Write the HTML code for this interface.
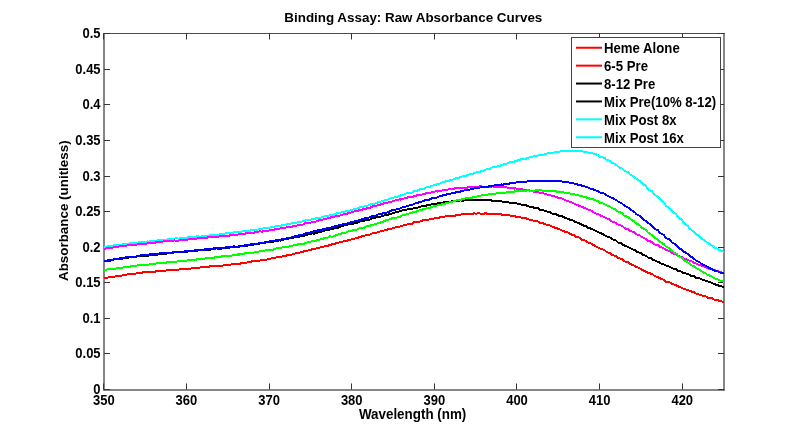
<!DOCTYPE html><html><head><meta charset="utf-8"><style>html,body{margin:0;padding:0;background:#fff;width:800px;height:438px;overflow:hidden}svg{display:block;will-change:transform}text{font-family:"Liberation Sans",sans-serif;font-weight:bold;fill:#000}</style></head><body>
<svg width="800" height="438" viewBox="0 0 800 438">
<text transform="translate(413.30,21.80) scale(1,1.0)" font-size="13.4" text-anchor="middle">Binding Assay: Raw Absorbance Curves</text>
<path d="M104 33V390.5M724 33V390.5M103.5 390H724.5" stroke="#000" stroke-width="1" fill="none" opacity="0.95"/>
<path d="M103.5 33.5H724.5" stroke="#000" stroke-width="1" fill="none" opacity="0.7"/>
<path d="M104 389.5h6M724 389.5h-6M104 353.5h6M724 353.5h-6M104 318.5h6M724 318.5h-6M104 282.5h6M724 282.5h-6M104 247.5h6M724 247.5h-6M104 211.5h6M724 211.5h-6M104 176.5h6M724 176.5h-6M104 140.5h6M724 140.5h-6M104 104.5h6M724 104.5h-6M104 69.5h6M724 69.5h-6M104 33.5h6M724 33.5h-6M103.5 389.5v-6M103.5 33.5v6M186.5 389.5v-6M186.5 33.5v6M269.5 389.5v-6M269.5 33.5v6M351.5 389.5v-6M351.5 33.5v6M434.5 389.5v-6M434.5 33.5v6M516.5 389.5v-6M516.5 33.5v6M599.5 389.5v-6M599.5 33.5v6M682.5 389.5v-6M682.5 33.5v6" stroke="#333" stroke-width="1" fill="none"/>
<text transform="translate(100.60,394.10) scale(1,1.12)" font-size="13" text-anchor="end">0</text>
<text transform="translate(100.60,358.10) scale(1,1.12)" font-size="13" text-anchor="end">0.05</text>
<text transform="translate(100.60,323.10) scale(1,1.12)" font-size="13" text-anchor="end">0.1</text>
<text transform="translate(100.60,287.10) scale(1,1.12)" font-size="13" text-anchor="end">0.15</text>
<text transform="translate(100.60,252.10) scale(1,1.12)" font-size="13" text-anchor="end">0.2</text>
<text transform="translate(100.60,216.10) scale(1,1.12)" font-size="13" text-anchor="end">0.25</text>
<text transform="translate(100.60,181.10) scale(1,1.12)" font-size="13" text-anchor="end">0.3</text>
<text transform="translate(100.60,145.10) scale(1,1.12)" font-size="13" text-anchor="end">0.35</text>
<text transform="translate(100.60,109.10) scale(1,1.12)" font-size="13" text-anchor="end">0.4</text>
<text transform="translate(100.60,74.10) scale(1,1.12)" font-size="13" text-anchor="end">0.45</text>
<text transform="translate(100.60,38.10) scale(1,1.12)" font-size="13" text-anchor="end">0.5</text>
<text transform="translate(103.83,404.80) scale(1,1.12)" font-size="13" text-anchor="middle">350</text>
<text transform="translate(186.46,404.80) scale(1,1.12)" font-size="13" text-anchor="middle">360</text>
<text transform="translate(269.10,404.80) scale(1,1.12)" font-size="13" text-anchor="middle">370</text>
<text transform="translate(351.73,404.80) scale(1,1.12)" font-size="13" text-anchor="middle">380</text>
<text transform="translate(434.36,404.80) scale(1,1.12)" font-size="13" text-anchor="middle">390</text>
<text transform="translate(517.00,404.80) scale(1,1.12)" font-size="13" text-anchor="middle">400</text>
<text transform="translate(599.63,404.80) scale(1,1.12)" font-size="13" text-anchor="middle">410</text>
<text transform="translate(682.26,404.80) scale(1,1.12)" font-size="13" text-anchor="middle">420</text>
<text transform="translate(412.60,419.30) scale(1,1.04)" font-size="13.4" text-anchor="middle">Wavelength (nm)</text>
<text transform="translate(67.60,210.70) rotate(-90) scale(1,1.0)" font-size="13.4" text-anchor="middle">Absorbance (unitless)</text>
<g fill="none" stroke-width="2" stroke-linejoin="round" shape-rendering="crispEdges">
<path d="M104 278.4 106 278.2 107 277.8 108 277.4 110 277.2 112 276.9 113 276.8 114 276.8 116 276.2 118 276.0 119 276.0 120 275.7 122 275.5 124 275.0 125 275.0 126 274.9 128 274.3 130 274.3 131 273.8 132 273.8 134 273.5 136 273.6 137 273.2 138 273.3 140 273.1 142 272.9 143 272.3 144 272.5 146 272.4 148 272.3 149 271.8 150 271.9 152 271.6 154 271.5 155 271.7 156 271.2 158 271.2 160 271.3 161 270.8 162 270.8 164 270.7 166 270.5 167 270.1 168 270.3 170 270.4 172 269.7 173 270.0 174 269.8 176 269.5 178 269.9 179 269.5 180 269.0 182 269.1 184 269.1 185 268.8 186 268.9 188 268.6 190 268.6 191 268.6 192 268.1 194 268.1 196 267.9 197 267.9 198 267.5 200 267.5 202 267.4 203 267.5 204 267.4 206 266.8 208 266.8 209 266.9 210 266.3 212 266.4 214 266.4 215 266.5 216 266.2 218 265.9 220 265.7 221 265.6 222 265.8 224 265.2 226 265.1 227 265.1 228 264.8 230 264.6 232 264.3 233 264.3 234 264.1 236 264.2 238 263.9 239 263.6 240 263.6 242 263.2 244 263.3 245 262.9 246 262.8 248 262.2 250 262.3 251 261.7 252 261.4 254 261.5 256 261.2 257 261.2 258 261.3 260 260.5 262 260.3 263 260.2 264 260.0 266 259.6 268 259.3 269 259.2 270 258.9 272 258.3 274 258.2 275 258.0 276 257.4 278 257.4 280 256.9 281 256.9 282 256.5 284 256.1 286 255.7 287 255.4 288 254.7 290 254.6 292 254.5 293 253.7 294 253.9 296 253.1 298 253.2 299 252.5 300 252.5 302 252.0 304 251.3 305 251.5 306 251.2 308 250.5 310 250.1 311 249.8 312 249.3 314 249.3 316 248.6 317 248.3 318 247.8 320 247.5 322 247.0 323 247.1 324 246.4 326 246.3 328 245.7 329 245.2 330 244.9 332 244.4 334 244.2 335 243.7 336 243.3 338 242.7 340 242.4 341 242.5 342 241.7 344 241.2 346 241.1 347 240.9 348 239.9 350 239.8 352 239.3 353 238.7 354 238.7 356 238.2 358 237.8 359 237.2 360 237.0 362 236.4 364 236.1 365 235.5 366 235.1 368 235.1 370 234.4 371 234.1 372 233.6 374 233.1 376 232.7 377 232.5 378 231.9 380 231.5 382 231.2 383 231.0 384 230.5 386 230.0 388 229.4 389 228.8 390 228.9 392 228.5 394 227.9 395 227.6 396 227.3 398 226.9 400 226.5 401 225.9 402 225.9 404 224.9 406 225.0 407 224.5 408 224.3 410 224.1 412 223.7 413 222.8 414 222.3 416 222.5 418 221.8 419 221.6 420 221.5 422 220.6 424 220.2 425 220.4 426 220.0 428 219.7 430 219.4 431 218.9 432 218.5 434 218.5 436 218.1 437 217.7 438 217.8 440 217.4 442 217.3 443 216.8 444 216.6 446 216.3 448 216.1 449 216.1 450 215.7 452 215.7 454 215.5 455 215.7 456 214.8 458 215.1 460 214.8 461 214.6 462 214.2 464 214.3 466 214.4 467 214.1 468 214.1 470 213.9 472 214.1 473 213.8 474 213.3 476 213.6 478 213.3 479 213.0 480 213.5 482 213.9 484 213.6 485 213.4 486 213.4 488 213.9 490 213.7 491 213.8 492 213.8 494 213.9 496 214.2 497 214.2 498 214.3 500 214.2 502 214.6 503 214.5 504 215.1 506 214.8 508 215.2 509 215.4 510 215.4 512 216.2 514 216.4 515 216.3 516 216.8 518 217.0 520 216.7 521 217.6 522 217.8 524 218.2 526 218.3 527 218.8 528 219.2 530 219.8 532 220.0 533 220.4 534 221.1 536 221.1 538 221.5 539 221.7 540 222.8 542 223.2 544 223.6 545 224.1 546 224.5 548 225.0 550 225.4 551 226.0 552 226.6 554 227.4 556 227.8 557 228.3 558 228.8 560 229.4 562 230.4 563 230.8 564 231.4 566 231.9 568 232.4 569 233.3 570 234.2 572 234.6 574 235.3 575 236.0 576 236.7 578 237.1 580 238.1 581 238.7 582 239.7 584 240.1 586 241.1 587 242.1 588 242.4 590 243.1 592 244.0 593 244.7 594 245.3 596 246.4 598 247.4 599 247.7 600 248.5 602 249.1 604 250.1 605 250.6 606 251.4 608 252.6 610 253.0 611 254.1 612 255.0 614 255.5 616 256.3 617 257.4 618 257.7 620 258.4 622 259.0 623 260.1 624 261.1 626 261.8 628 262.2 629 262.9 630 263.8 632 264.7 634 265.4 635 266.2 636 267.0 638 267.6 640 268.4 641 269.2 642 269.9 644 270.7 646 271.7 647 272.2 648 272.8 650 273.2 652 274.3 653 274.6 654 275.4 656 276.6 658 277.2 659 277.8 660 278.2 662 279.1 664 279.7 665 280.7 666 281.7 668 281.9 670 282.4 671 283.0 672 283.9 674 284.5 676 284.9 677 285.8 678 286.2 680 287.3 682 287.9 683 288.5 684 288.8 686 289.6 688 290.1 689 290.6 690 291.2 692 291.6 694 292.1 695 293.1 696 293.4 698 294.1 700 294.7 701 294.7 702 295.4 704 296.1 706 296.6 707 297.0 708 297.7 710 298.0 712 298.2 713 298.7 714 299.5 716 299.9 718 299.8 719 300.9 720 301.1 722 301.6 724 301.7" stroke="#f00"/>
<path d="M104 246.8 106 246.5 107 247.0 108 246.2 110 246.4 112 245.7 113 245.7 114 245.1 116 245.2 118 245.2 119 244.6 120 244.9 122 244.5 124 244.1 125 244.0 126 243.8 128 243.7 130 243.4 131 243.2 132 243.1 134 242.8 136 242.6 137 242.7 138 242.7 140 242.0 142 242.2 143 241.9 144 241.7 146 241.9 148 241.4 149 241.7 150 241.1 152 241.2 154 240.9 155 240.6 156 240.7 158 240.4 160 240.4 161 240.2 162 239.8 164 239.8 166 239.7 167 239.8 168 239.2 170 239.3 172 238.8 173 239.1 174 238.6 176 238.3 178 238.5 179 238.6 180 238.0 182 237.9 184 237.8 185 237.6 186 237.8 188 237.4 190 237.3 191 237.4 192 237.0 194 237.0 196 236.6 197 236.4 198 236.2 200 236.7 202 236.2 203 236.1 204 235.9 206 235.8 208 235.6 209 235.8 210 235.1 212 234.8 214 234.8 215 234.6 216 234.8 218 234.7 220 234.2 221 233.9 222 233.9 224 234.1 226 233.1 227 233.6 228 233.1 230 233.4 232 232.8 233 232.7 234 232.3 236 232.2 238 232.5 239 232.2 240 231.8 242 231.5 244 231.1 245 231.2 246 231.1 248 230.9 250 230.7 251 230.2 252 230.2 254 230.0 256 230.1 257 230.0 258 229.4 260 229.0 262 228.9 263 228.6 264 228.3 266 228.2 268 227.8 269 227.9 270 227.5 272 227.3 274 226.9 275 226.6 276 226.3 278 226.1 280 225.8 281 225.7 282 225.4 284 224.8 286 224.8 287 224.3 288 224.1 290 223.9 292 223.3 293 223.4 294 223.1 296 222.7 298 222.4 299 222.1 300 221.7 302 221.5 304 221.1 305 220.9 306 220.3 308 220.3 310 220.0 311 219.6 312 219.2 314 219.1 316 218.3 317 218.4 318 218.0 320 217.7 322 217.3 323 216.8 324 216.5 326 216.3 328 215.9 329 215.5 330 214.8 332 214.9 334 214.7 335 214.3 336 213.7 338 213.0 340 213.1 341 212.5 342 211.7 344 211.9 346 211.1 347 210.8 348 210.5 350 210.5 352 209.8 353 209.5 354 209.4 356 208.9 358 208.2 359 207.7 360 207.1 362 206.8 364 206.6 365 206.2 366 205.7 368 205.5 370 204.7 371 204.4 372 204.1 374 203.6 376 203.3 377 202.7 378 202.1 380 201.8 382 201.1 383 200.5 384 200.5 386 199.9 388 199.6 389 198.7 390 198.5 392 198.0 394 197.5 395 196.8 396 196.7 398 196.5 400 195.9 401 195.3 402 194.9 404 194.6 406 193.4 407 193.5 408 193.2 410 192.7 412 192.5 413 191.9 414 191.3 416 190.8 418 190.4 419 189.7 420 189.3 422 189.1 424 188.8 425 187.9 426 187.5 428 187.1 430 186.8 431 186.1 432 185.9 434 185.0 436 184.7 437 184.2 438 184.0 440 183.5 442 182.6 443 182.2 444 182.0 446 181.4 448 180.8 449 180.8 450 180.3 452 179.8 454 179.2 455 179.0 456 178.3 458 178.2 460 177.3 461 176.9 462 176.6 464 176.0 466 175.9 467 175.3 468 174.7 470 174.4 472 173.9 473 173.7 474 172.9 476 172.5 478 172.4 479 172.2 480 171.7 482 170.9 484 170.5 485 170.3 486 169.5 488 168.9 490 168.7 491 168.3 492 167.6 494 167.0 496 166.6 497 166.6 498 165.9 500 165.6 502 165.2 503 164.8 504 164.2 506 163.9 508 163.2 509 162.9 510 162.3 512 162.3 514 161.7 515 161.1 516 160.8 518 160.4 520 160.2 521 159.3 522 159.0 524 158.7 526 158.9 527 158.2 528 157.6 530 157.4 532 157.3 533 156.5 534 156.1 536 156.1 538 155.6 539 155.3 540 154.8 542 155.0 544 154.6 545 154.1 546 153.8 548 153.0 550 153.3 551 152.9 552 152.7 554 152.6 556 152.1 557 151.7 558 151.9 560 151.5 562 151.4 563 151.2 564 151.1 566 150.6 568 151.2 569 151.0 570 151.1 572 151.3 574 150.9 575 150.5 576 150.8 578 150.8 580 151.1 581 151.3 582 151.1 584 151.7 586 151.6 587 152.2 588 152.5 590 152.8 592 153.2 593 153.5 594 153.9 596 154.2 598 155.1 599 156.0 600 156.7 602 157.2 604 157.8 605 158.3 606 159.5 608 160.0 610 160.9 611 161.8 612 162.8 614 163.6 616 164.7 617 165.4 618 166.6 620 168.1 622 168.5 623 169.5 624 170.6 626 171.6 628 172.2 629 173.3 630 174.6 632 175.5 634 176.5 635 177.9 636 178.6 638 179.9 640 181.0 641 182.6 642 183.2 644 184.7 646 186.0 647 187.6 648 188.9 650 190.4 652 191.1 653 193.0 654 194.1 656 195.5 658 197.1 659 198.2 660 199.4 662 201.2 664 202.4 665 204.0 666 205.7 668 207.2 670 208.9 671 210.0 672 211.2 674 212.9 676 214.3 677 215.7 678 217.5 680 218.8 682 219.9 683 221.9 684 223.2 686 224.7 688 226.1 689 227.6 690 228.8 692 230.4 694 231.6 695 232.9 696 234.2 698 235.1 700 236.6 701 237.8 702 239.1 704 239.9 706 241.6 707 242.4 708 243.2 710 244.1 712 245.4 713 246.4 714 247.1 716 248.2 718 248.8 719 249.8 720 250.3 722 251.1 724 251.9" stroke="#0ff"/>
<path d="M104 249.4 106 248.5 107 248.4 108 248.1 110 248.2 112 247.5 113 247.5 114 247.3 116 246.9 118 246.7 119 246.6 120 246.1 122 246.0 124 246.0 125 245.9 126 245.7 128 245.2 130 245.3 131 245.3 132 245.1 134 244.8 136 244.5 137 244.6 138 244.2 140 243.9 142 243.8 143 244.1 144 243.7 146 243.7 148 243.2 149 243.3 150 242.9 152 242.8 154 243.2 155 242.7 156 242.3 158 242.2 160 242.1 161 242.2 162 241.7 164 241.3 166 241.4 167 241.3 168 241.2 170 241.3 172 241.0 173 240.9 174 240.4 176 240.7 178 240.8 179 240.4 180 240.1 182 240.0 184 240.2 185 239.5 186 239.5 188 239.5 190 239.4 191 239.0 192 239.0 194 238.8 196 238.7 197 238.5 198 238.2 200 238.3 202 238.3 203 237.8 204 237.8 206 237.9 208 237.4 209 237.5 210 237.1 212 237.4 214 237.5 215 237.3 216 236.7 218 236.7 220 236.4 221 236.3 222 236.4 224 235.7 226 236.0 227 235.6 228 235.8 230 235.4 232 235.0 233 235.0 234 235.0 236 234.7 238 234.6 239 234.2 240 233.7 242 234.1 244 233.9 245 233.6 246 233.4 248 233.4 250 232.9 251 232.7 252 232.6 254 232.7 256 232.0 257 232.3 258 231.7 260 231.4 262 231.7 263 231.2 264 230.7 266 230.7 268 230.7 269 230.6 270 230.0 272 229.9 274 229.8 275 229.2 276 229.2 278 228.9 280 228.5 281 228.3 282 228.1 284 227.8 286 227.5 287 227.2 288 227.2 290 226.8 292 226.6 293 226.4 294 226.0 296 226.0 298 225.1 299 225.1 300 224.6 302 224.7 304 224.3 305 223.3 306 223.2 308 223.2 310 222.9 311 222.5 312 222.0 314 221.8 316 221.5 317 221.0 318 220.8 320 219.8 322 220.1 323 219.4 324 219.4 326 218.8 328 218.3 329 218.2 330 217.6 332 217.2 334 216.7 335 216.6 336 216.3 338 216.1 340 215.4 341 215.3 342 214.7 344 214.3 346 214.0 347 213.7 348 213.1 350 212.7 352 212.3 353 212.0 354 211.4 356 211.4 358 210.7 359 210.4 360 209.8 362 209.6 364 209.2 365 208.7 366 208.7 368 208.0 370 207.9 371 207.3 372 206.6 374 206.2 376 206.0 377 205.5 378 205.1 380 204.7 382 204.0 383 203.9 384 203.1 386 203.2 388 202.6 389 202.2 390 201.9 392 201.6 394 200.9 395 200.4 396 200.2 398 199.6 400 199.4 401 199.6 402 198.7 404 198.6 406 197.9 407 197.8 408 197.3 410 197.0 412 196.8 413 196.7 414 196.0 416 195.7 418 195.1 419 195.1 420 194.6 422 194.5 424 194.0 425 194.0 426 193.0 428 193.0 430 192.9 431 192.4 432 192.0 434 191.8 436 191.3 437 191.4 438 191.6 440 191.1 442 190.4 443 190.2 444 190.0 446 190.1 448 189.5 449 189.3 450 189.4 452 189.2 454 188.7 455 188.4 456 188.1 458 188.1 460 187.7 461 188.1 462 187.7 464 187.8 466 187.9 467 187.7 468 187.1 470 187.4 472 187.4 473 186.9 474 186.8 476 186.9 478 186.5 479 187.1 480 186.3 482 186.5 484 186.6 485 186.6 486 186.7 488 186.7 490 186.6 491 186.9 492 186.3 494 186.7 496 186.6 497 186.9 498 187.0 500 186.8 502 186.9 503 187.3 504 187.3 506 187.3 508 187.9 509 188.1 510 187.5 512 188.0 514 188.6 515 188.4 516 188.5 518 188.6 520 188.8 521 189.0 522 189.2 524 189.7 526 189.7 527 189.9 528 190.1 530 190.6 532 190.7 533 191.1 534 191.7 536 191.9 538 192.2 539 192.5 540 192.8 542 193.1 544 193.5 545 194.1 546 194.1 548 195.0 550 195.1 551 195.4 552 195.9 554 196.3 556 196.9 557 197.2 558 198.1 560 198.2 562 198.4 563 199.2 564 199.5 566 200.4 568 201.2 569 201.6 570 201.8 572 202.5 574 203.6 575 203.9 576 204.5 578 205.3 580 206.2 581 206.6 582 207.0 584 207.7 586 208.4 587 208.9 588 209.4 590 210.3 592 210.8 593 211.7 594 212.5 596 213.6 598 213.7 599 214.6 600 215.3 602 216.2 604 217.0 605 217.5 606 218.2 608 218.7 610 219.7 611 220.7 612 221.4 614 222.0 616 222.9 617 223.7 618 224.6 620 225.2 622 226.0 623 226.5 624 227.5 626 228.8 628 228.9 629 230.0 630 230.9 632 231.6 634 232.3 635 233.3 636 234.1 638 234.9 640 235.4 641 236.5 642 237.2 644 238.0 646 239.0 647 239.9 648 240.7 650 241.3 652 242.3 653 243.2 654 244.0 656 244.8 658 245.3 659 246.1 660 247.0 662 247.4 664 248.5 665 249.1 666 249.9 668 250.4 670 251.3 671 252.2 672 253.1 674 253.9 676 254.4 677 255.1 678 255.7 680 256.6 682 257.2 683 258.0 684 259.0 686 259.3 688 259.6 689 260.4 690 261.0 692 261.6 694 262.8 695 263.2 696 263.4 698 264.5 700 265.2 701 265.4 702 266.0 704 266.6 706 267.3 707 267.9 708 268.5 710 269.0 712 269.5 713 270.0 714 270.4 716 270.4 718 271.1 719 271.6 720 271.9 722 272.6 724 272.7" stroke="#f0f"/>
<path d="M104 261.3 106 261.5 107 261.1 108 260.7 110 260.6 112 260.4 113 260.0 114 259.2 116 259.3 118 259.1 119 258.8 120 258.8 122 258.8 124 258.2 125 257.9 126 258.3 128 257.6 130 257.3 131 257.4 132 257.2 134 256.8 136 256.9 137 256.4 138 256.2 140 256.2 142 256.2 143 255.7 144 255.7 146 255.5 148 255.9 149 255.0 150 255.3 152 254.8 154 254.7 155 254.7 156 254.5 158 254.5 160 254.1 161 253.8 162 253.7 164 253.7 166 253.6 167 253.6 168 253.3 170 253.3 172 253.2 173 252.8 174 252.3 176 252.3 178 252.1 179 252.6 180 251.9 182 252.2 184 252.0 185 252.1 186 251.8 188 251.4 190 251.3 191 251.2 192 251.1 194 250.8 196 250.8 197 251.0 198 250.2 200 250.4 202 250.1 203 250.2 204 250.2 206 249.8 208 249.9 209 249.3 210 249.7 212 249.2 214 249.3 215 249.1 216 248.4 218 248.6 220 248.6 221 248.8 222 248.4 224 248.2 226 247.7 227 248.1 228 248.0 230 247.5 232 247.3 233 246.9 234 247.2 236 247.4 238 246.8 239 246.8 240 246.4 242 246.0 244 246.2 245 245.5 246 245.6 248 245.5 250 245.4 251 245.1 252 244.9 254 244.4 256 244.1 257 244.2 258 243.8 260 243.5 262 243.3 263 243.2 264 242.7 266 242.5 268 242.2 269 242.4 270 242.2 272 242.2 274 241.3 275 241.2 276 241.2 278 240.7 280 240.4 281 240.6 282 239.9 284 239.4 286 239.1 287 239.1 288 238.8 290 238.2 292 238.0 293 238.0 294 237.6 296 237.1 298 237.0 299 236.7 300 235.9 302 235.9 304 235.7 305 235.1 306 234.5 308 234.5 310 234.4 311 234.2 312 233.1 314 233.7 316 232.6 317 232.7 318 232.4 320 232.0 322 231.5 323 230.8 324 230.8 326 230.2 328 229.5 329 230.2 330 229.4 332 229.2 334 228.3 335 228.4 336 228.1 338 227.7 340 227.0 341 226.4 342 226.2 344 225.4 346 225.1 347 225.1 348 224.5 350 224.3 352 223.9 353 223.9 354 223.4 356 222.7 358 222.6 359 221.8 360 221.5 362 221.4 364 220.6 365 220.4 366 219.8 368 219.7 370 219.6 371 218.7 372 218.5 374 217.9 376 217.5 377 217.0 378 217.2 380 217.0 382 216.2 383 215.6 384 215.5 386 214.9 388 214.7 389 214.2 390 213.8 392 213.5 394 212.9 395 212.5 396 211.9 398 211.8 400 211.2 401 211.1 402 210.5 404 210.4 406 210.1 407 209.4 408 209.1 410 208.7 412 208.7 413 208.6 414 208.1 416 207.5 418 207.5 419 206.6 420 206.9 422 206.1 424 205.4 425 206.2 426 205.7 428 204.8 430 204.8 431 204.4 432 204.2 434 203.7 436 203.6 437 203.5 438 203.2 440 203.2 442 202.7 443 203.0 444 202.2 446 202.1 448 201.5 449 201.5 450 201.8 452 201.2 454 201.3 455 201.0 456 200.7 458 200.7 460 200.5 461 200.4 462 200.6 464 200.5 466 200.1 467 200.0 468 200.1 470 200.0 472 200.2 473 200.5 474 200.1 476 199.9 478 199.9 479 199.7 480 199.7 482 199.7 484 199.9 485 199.9 486 200.2 488 200.1 490 200.2 491 200.1 492 200.7 494 200.6 496 201.0 497 200.9 498 201.2 500 201.0 502 201.4 503 202.0 504 201.4 506 202.1 508 202.4 509 202.4 510 202.7 512 203.0 514 202.9 515 203.4 516 203.4 518 203.7 520 204.0 521 204.4 522 204.8 524 205.2 526 205.2 527 206.2 528 206.4 530 206.7 532 206.9 533 207.3 534 207.8 536 208.2 538 208.2 539 209.1 540 210.0 542 209.5 544 210.5 545 210.8 546 211.2 548 212.0 550 212.0 551 212.7 552 213.5 554 213.7 556 214.1 557 214.8 558 215.2 560 216.2 562 216.2 563 217.1 564 217.3 566 218.2 568 218.7 569 218.7 570 219.9 572 220.2 574 221.0 575 222.0 576 222.1 578 222.7 580 223.9 581 224.3 582 225.2 584 225.6 586 226.0 587 226.9 588 227.8 590 228.4 592 228.9 593 229.6 594 230.3 596 230.9 598 232.1 599 232.4 600 232.9 602 233.8 604 234.8 605 235.5 606 236.1 608 236.7 610 237.6 611 238.0 612 238.8 614 240.0 616 240.5 617 241.5 618 242.4 620 243.0 622 243.7 623 244.9 624 245.4 626 245.9 628 246.9 629 247.6 630 248.1 632 249.1 634 249.8 635 250.2 636 251.4 638 252.1 640 252.8 641 253.3 642 254.4 644 255.2 646 255.9 647 256.4 648 257.5 650 257.9 652 258.8 653 259.8 654 260.2 656 260.9 658 261.9 659 262.3 660 263.0 662 263.8 664 264.6 665 264.6 666 265.6 668 266.2 670 266.8 671 267.5 672 268.1 674 269.0 676 269.3 677 270.1 678 270.8 680 271.1 682 271.9 683 272.8 684 273.1 686 273.5 688 274.2 689 274.5 690 275.3 692 276.0 694 276.2 695 276.9 696 277.7 698 277.9 700 278.6 701 278.9 702 279.5 704 280.0 706 281.1 707 281.1 708 281.6 710 282.1 712 282.7 713 283.4 714 283.8 716 284.7 718 284.9 719 285.7 720 285.9 722 286.5 724 286.6" stroke="#000"/>
<path d="M104 261.1 106 260.8 107 260.5 108 259.9 110 260.2 112 259.7 113 259.5 114 259.3 116 259.0 118 258.9 119 258.4 120 258.2 122 258.2 124 258.0 125 257.7 126 257.4 128 257.2 130 257.1 131 257.2 132 256.5 134 256.9 136 256.5 137 256.1 138 256.2 140 255.5 142 255.3 143 255.2 144 255.2 146 255.1 148 254.9 149 254.8 150 254.2 152 254.6 154 254.0 155 254.0 156 253.9 158 253.6 160 253.4 161 253.4 162 253.4 164 253.4 166 253.2 167 252.8 168 252.7 170 252.5 172 252.7 173 252.0 174 252.5 176 252.1 178 251.9 179 252.0 180 252.0 182 251.7 184 251.7 185 251.4 186 251.5 188 251.3 190 250.9 191 251.1 192 250.7 194 250.6 196 250.2 197 250.2 198 250.3 200 249.7 202 250.0 203 249.8 204 249.7 206 249.0 208 249.3 209 249.3 210 248.9 212 248.9 214 248.3 215 248.7 216 248.3 218 248.5 220 247.8 221 248.1 222 247.8 224 247.9 226 247.4 227 247.3 228 247.7 230 246.9 232 246.7 233 246.7 234 246.3 236 246.6 238 246.5 239 245.9 240 245.5 242 245.9 244 245.7 245 245.4 246 245.3 248 244.7 250 244.6 251 244.2 252 244.0 254 244.2 256 243.7 257 244.0 258 243.4 260 243.0 262 243.1 263 243.0 264 242.5 266 241.9 268 242.0 269 241.9 270 241.3 272 241.0 274 241.1 275 240.6 276 240.1 278 239.9 280 239.6 281 239.5 282 239.2 284 239.1 286 238.7 287 237.9 288 238.0 290 237.7 292 237.3 293 237.1 294 236.4 296 236.0 298 236.0 299 235.2 300 234.7 302 234.9 304 234.2 305 233.9 306 233.3 308 233.0 310 232.6 311 232.4 312 232.2 314 231.2 316 231.5 317 230.7 318 230.3 320 230.3 322 229.8 323 229.1 324 229.4 326 228.5 328 228.3 329 228.0 330 227.8 332 227.1 334 227.0 335 226.3 336 226.2 338 225.5 340 225.2 341 225.3 342 224.6 344 224.1 346 224.2 347 223.4 348 222.8 350 222.7 352 222.0 353 222.0 354 221.6 356 220.9 358 220.5 359 220.2 360 219.8 362 219.2 364 219.1 365 218.2 366 218.1 368 217.7 370 217.3 371 217.0 372 216.2 374 216.1 376 215.6 377 215.0 378 214.4 380 214.0 382 213.9 383 213.2 384 212.9 386 212.7 388 212.2 389 211.9 390 211.0 392 210.4 394 210.4 395 209.8 396 209.5 398 208.8 400 208.5 401 208.0 402 207.5 404 207.0 406 206.5 407 206.0 408 205.6 410 205.3 412 204.5 413 204.5 414 203.7 416 203.4 418 202.8 419 202.3 420 202.3 422 201.4 424 200.7 425 200.4 426 200.0 428 200.1 430 199.3 431 199.0 432 198.2 434 198.0 436 197.7 437 197.5 438 196.6 440 196.4 442 196.0 443 195.3 444 195.1 446 194.7 448 193.9 449 194.1 450 193.7 452 193.2 454 192.6 455 192.8 456 192.3 458 192.1 460 191.8 461 191.1 462 191.1 464 190.5 466 190.3 467 190.0 468 189.7 470 189.6 472 189.1 473 188.8 474 188.5 476 188.4 478 187.9 479 187.7 480 187.5 482 187.2 484 187.0 485 186.7 486 187.0 488 186.6 490 186.2 491 185.9 492 186.1 494 185.5 496 185.2 497 185.1 498 184.9 500 184.9 502 184.4 503 184.7 504 183.9 506 184.0 508 183.5 509 183.8 510 183.2 512 183.1 514 183.1 515 183.0 516 182.4 518 182.4 520 182.0 521 182.2 522 182.0 524 181.8 526 181.6 527 181.5 528 181.3 530 181.4 532 181.5 533 180.7 534 181.0 536 180.9 538 181.0 539 180.6 540 180.8 542 180.5 544 180.9 545 180.7 546 180.7 548 180.8 550 180.7 551 180.5 552 181.0 554 181.0 556 181.0 557 181.3 558 181.5 560 181.2 562 181.4 563 182.0 564 182.2 566 182.0 568 182.1 569 182.5 570 182.8 572 182.9 574 183.5 575 183.6 576 183.9 578 184.7 580 184.8 581 185.3 582 185.9 584 186.3 586 186.6 587 187.1 588 187.4 590 188.5 592 188.8 593 189.0 594 189.8 596 190.5 598 191.1 599 192.0 600 192.6 602 192.9 604 193.6 605 194.1 606 195.2 608 195.9 610 197.2 611 197.5 612 197.8 614 198.9 616 200.0 617 200.6 618 201.5 620 202.5 622 203.6 623 204.5 624 205.3 626 206.6 628 207.4 629 208.4 630 209.3 632 210.4 634 211.8 635 212.4 636 213.8 638 215.1 640 216.0 641 217.3 642 218.2 644 219.8 646 221.0 647 222.0 648 222.8 650 224.1 652 225.8 653 227.1 654 228.1 656 229.5 658 230.3 659 231.6 660 232.9 662 234.2 664 235.0 665 236.8 666 238.1 668 238.8 670 239.9 671 241.5 672 242.5 674 243.4 676 245.2 677 246.2 678 247.3 680 248.9 682 249.7 683 250.7 684 251.9 686 252.8 688 254.0 689 255.3 690 256.2 692 257.2 694 258.7 695 259.5 696 260.5 698 261.4 700 262.4 701 263.5 702 264.1 704 265.3 706 265.6 707 266.6 708 267.2 710 268.2 712 269.1 713 270.0 714 270.3 716 271.0 718 271.6 719 272.1 720 272.6 722 273.4 724 273.5" stroke="#00f"/>
<path d="M104 270.1 106 269.9 107 269.5 108 269.2 110 268.9 112 269.4 113 268.5 114 268.9 116 268.5 118 268.1 119 267.7 120 268.0 122 267.9 124 267.2 125 267.1 126 267.2 128 266.8 130 267.0 131 266.3 132 266.3 134 265.8 136 266.3 137 265.5 138 265.1 140 265.3 142 265.1 143 265.4 144 264.7 146 264.6 148 264.6 149 264.6 150 264.1 152 264.2 154 263.9 155 263.6 156 263.5 158 263.3 160 263.0 161 263.3 162 262.6 164 262.9 166 262.7 167 262.4 168 262.1 170 262.0 172 262.0 173 261.9 174 261.7 176 261.7 178 261.2 179 261.2 180 260.7 182 261.0 184 260.7 185 260.5 186 260.6 188 260.4 190 259.5 191 259.9 192 259.5 194 259.8 196 260.0 197 259.2 198 259.2 200 258.9 202 258.9 203 258.8 204 258.8 206 258.2 208 258.5 209 257.8 210 257.9 212 257.9 214 257.7 215 257.2 216 257.1 218 256.9 220 256.9 221 256.9 222 256.3 224 256.4 226 256.3 227 256.1 228 255.9 230 255.9 232 255.5 233 255.4 234 255.2 236 255.2 238 254.3 239 254.7 240 254.2 242 254.0 244 253.7 245 253.3 246 253.4 248 253.1 250 253.2 251 252.5 252 252.9 254 252.5 256 252.1 257 251.8 258 251.6 260 251.3 262 251.2 263 251.0 264 250.8 266 250.3 268 250.3 269 249.9 270 249.8 272 249.9 274 249.4 275 249.0 276 248.4 278 248.2 280 247.9 281 248.1 282 247.5 284 247.4 286 247.0 287 246.8 288 246.8 290 246.1 292 245.8 293 245.4 294 245.5 296 244.8 298 244.4 299 244.0 300 243.7 302 243.7 304 243.8 305 242.8 306 242.8 308 242.3 310 241.7 311 241.5 312 241.2 314 240.7 316 240.9 317 239.8 318 239.8 320 239.5 322 238.9 323 238.7 324 238.4 326 237.9 328 237.6 329 237.2 330 236.3 332 236.6 334 236.4 335 235.7 336 235.3 338 234.4 340 234.3 341 233.7 342 233.3 344 233.2 346 232.5 347 232.2 348 231.4 350 231.3 352 230.9 353 230.3 354 229.9 356 230.0 358 228.9 359 228.5 360 228.1 362 228.1 364 227.8 365 227.0 366 226.4 368 226.0 370 225.8 371 225.0 372 225.0 374 224.5 376 223.8 377 223.5 378 223.0 380 222.7 382 221.8 383 221.7 384 221.0 386 220.4 388 220.1 389 219.6 390 219.0 392 218.4 394 218.1 395 218.1 396 217.8 398 217.0 400 216.7 401 215.9 402 215.5 404 215.1 406 214.4 407 214.0 408 213.7 410 213.2 412 212.6 413 212.4 414 211.9 416 211.7 418 211.0 419 210.5 420 210.2 422 209.7 424 209.1 425 208.8 426 208.6 428 208.1 430 207.8 431 206.8 432 206.7 434 206.2 436 206.0 437 205.4 438 205.0 440 204.9 442 204.4 443 203.7 444 203.8 446 203.4 448 202.7 449 202.6 450 201.9 452 201.9 454 201.3 455 200.8 456 200.6 458 200.1 460 200.0 461 199.7 462 199.3 464 198.9 466 197.9 467 198.4 468 197.7 470 197.8 472 197.7 473 197.2 474 196.8 476 196.6 478 196.3 479 195.9 480 195.7 482 195.3 484 195.5 485 195.0 486 195.0 488 194.5 490 194.4 491 194.1 492 194.0 494 193.9 496 193.5 497 193.2 498 192.9 500 193.2 502 192.7 503 192.5 504 192.7 506 192.5 508 192.2 509 191.9 510 192.3 512 191.7 514 191.6 515 191.4 516 191.0 518 190.9 520 191.2 521 191.1 522 190.8 524 190.6 526 190.5 527 190.6 528 190.3 530 190.8 532 190.8 533 191.1 534 190.7 536 190.4 538 190.3 539 189.8 540 190.4 542 190.5 544 190.8 545 190.8 546 190.9 548 190.9 550 191.1 551 191.3 552 190.9 554 191.2 556 191.1 557 191.9 558 192.0 560 192.1 562 191.9 563 192.3 564 192.5 566 192.8 568 193.0 569 193.4 570 193.5 572 194.0 574 194.2 575 194.4 576 194.8 578 195.1 580 195.7 581 195.9 582 196.4 584 196.7 586 196.9 587 197.8 588 197.9 590 198.7 592 199.2 593 199.3 594 200.0 596 200.6 598 201.1 599 201.7 600 202.7 602 203.1 604 203.9 605 204.4 606 205.2 608 205.7 610 206.6 611 207.5 612 208.2 614 208.9 616 209.6 617 210.7 618 211.6 620 212.3 622 213.1 623 214.3 624 215.6 626 216.1 628 217.2 629 218.2 630 218.6 632 220.2 634 221.1 635 222.6 636 223.3 638 224.3 640 225.5 641 226.7 642 227.7 644 229.0 646 229.9 647 231.3 648 232.6 650 234.0 652 234.9 653 236.0 654 237.4 656 238.6 658 239.9 659 240.9 660 241.9 662 243.1 664 244.3 665 245.5 666 246.6 668 247.6 670 248.5 671 250.0 672 250.8 674 252.4 676 253.5 677 254.3 678 255.9 680 257.0 682 258.0 683 259.4 684 260.5 686 260.9 688 262.4 689 263.3 690 264.4 692 265.5 694 266.1 695 267.1 696 268.0 698 269.0 700 270.0 701 270.7 702 271.6 704 272.8 706 273.5 707 274.4 708 274.8 710 275.7 712 276.5 713 277.4 714 278.0 716 278.9 718 279.4 719 280.0 720 280.6 722 281.3 724 281.6" stroke="#0f0"/>
</g>
<rect x="571.5" y="37.5" width="149" height="110" fill="#fff" stroke="#444" stroke-width="1"/>
<line x1="576" y1="47.75" x2="602" y2="47.75" stroke="#f00" stroke-width="2"/>
<text transform="translate(604.00,53.25) scale(1,1.12)" font-size="13.2" text-anchor="start">Heme Alone</text>
<line x1="576" y1="65.65" x2="602" y2="65.65" stroke="#f00" stroke-width="2"/>
<text transform="translate(604.00,71.15) scale(1,1.12)" font-size="13.2" text-anchor="start">6-5 Pre</text>
<line x1="576" y1="83.55" x2="602" y2="83.55" stroke="#000" stroke-width="2"/>
<text transform="translate(604.00,89.05) scale(1,1.12)" font-size="13.2" text-anchor="start">8-12 Pre</text>
<line x1="576" y1="101.45" x2="602" y2="101.45" stroke="#000" stroke-width="2"/>
<text transform="translate(604.00,106.95) scale(1,1.12)" font-size="13.2" text-anchor="start">Mix Pre(10% 8-12)</text>
<line x1="576" y1="119.35" x2="602" y2="119.35" stroke="#0ff" stroke-width="2"/>
<text transform="translate(604.00,124.85) scale(1,1.12)" font-size="13.2" text-anchor="start">Mix Post 8x</text>
<line x1="576" y1="137.25" x2="602" y2="137.25" stroke="#0ff" stroke-width="2"/>
<text transform="translate(604.00,142.75) scale(1,1.12)" font-size="13.2" text-anchor="start">Mix Post 16x</text>
</svg></body></html>
